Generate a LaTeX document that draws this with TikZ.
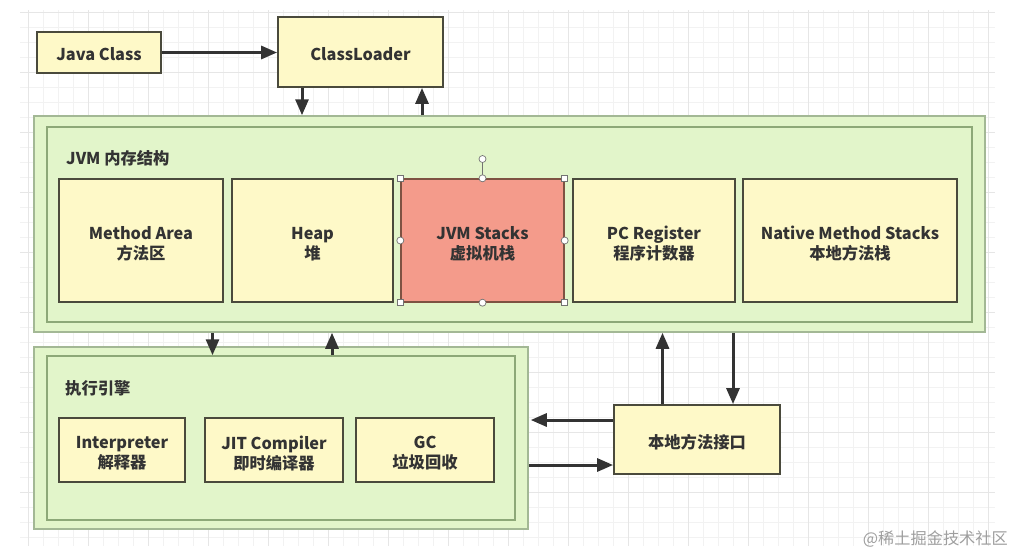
\documentclass[tikz,border=0pt]{standalone}
\usepackage{fontspec}
\setmainfont{Noto Sans CJK SC}
\usetikzlibrary{arrows.meta}
\definecolor{yfill}{HTML}{FEF9C8}
\definecolor{ydraw}{HTML}{4A4A3C}
\definecolor{gfill}{HTML}{E2F5CA}
\definecolor{gdraw}{HTML}{8DA878}
\definecolor{gdrawout}{HTML}{A3B895}
\definecolor{rfill}{HTML}{F49B8B}
\definecolor{rdraw}{HTML}{7E5242}
\definecolor{txt}{HTML}{333333}
\definecolor{gridminor}{HTML}{F2F2F2}
\definecolor{gridmajor}{HTML}{E6E6E6}
\tikzset{
  ybox/.style={draw=ydraw, fill=yfill, line width=1.8pt, inner sep=0pt},
  rbox/.style={ybox, draw=rdraw, fill=rfill, line width=1.4pt},
  btxt/.style={text=txt, align=center, inner sep=0pt, font=\fontsize{16.3}{20}\selectfont\bfseries},
  gouter/.style={draw=gdrawout, fill=gfill, line width=1.5pt, inner sep=0pt},
  ginner/.style={draw=gdraw, fill=gfill, line width=1.5pt, inner sep=0pt},
  glabel/.style={text=txt, font=\fontsize{16.3}{20}\selectfont\bfseries, inner sep=0pt, anchor=west},
  arr/.style={draw=txt, line width=3pt, -{Triangle[length=16pt,width=13pt]}},
  wm/.style={text=black!38, font=\fontsize{16.2}{20}\selectfont, inner sep=0pt},
  hsq/.style={draw=black!55, fill=white, line width=0.7pt, minimum size=6pt, inner sep=0pt},
  hci/.style={draw=black!55, fill=white, line width=0.7pt, circle, minimum size=7pt, inner sep=0pt},
}
\begin{document}
\begin{tikzpicture}[x=1pt,y=-1pt]
\useasboundingbox (0,0) rectangle (1016,555);
\fill[white] (0,0) rectangle (1016,555);
% background grid
\foreach \x in {28,43,...,988} \draw[gridminor, line width=0.8pt] (\x,10) -- (\x,546);
\foreach \y in {12,27,...,537} \draw[gridminor, line width=0.8pt] (20,\y) -- (995,\y);
\foreach \x in {28,88,...,988} \draw[gridmajor, line width=0.8pt] (\x,10) -- (\x,546);
\foreach \y in {12,72,...,537} \draw[gridmajor, line width=0.8pt] (20,\y) -- (995,\y);

% top
\node[ybox, minimum width=124pt, minimum height=41pt] (jc) at (99,52.5) {};
\node[btxt] (jct) at ([yshift=-1.5pt]jc.center) {Java Class};
\node[ybox, minimum width=165pt, minimum height=70pt] (cl) at (360.5,52) {};
\node[btxt] (clt) at ([yshift=-2pt]cl.center) {ClassLoader};

% JVM memory structure
\node[gouter, minimum width=951pt, minimum height=216pt] (jvmo) at (509.5,224) {};
\node[ginner, minimum width=925pt, minimum height=195pt] (jvmi) at (509.5,224.5) {};
\node[glabel] (jvml) at (66,158) {JVM 内存结构};
\node[ybox, minimum width=164pt, minimum height=123pt] (ma) at (141,240.5) {};
\node[ybox, minimum width=161pt, minimum height=123pt] (hp) at (312.5,240.5) {};
\node[rbox, minimum width=163pt, minimum height=123pt] (js) at (482.5,240.5) {};
\node[ybox, minimum width=162pt, minimum height=123pt] (pc) at (654,240.5) {};
\node[ybox, minimum width=214pt, minimum height=123pt] (nm) at (850,240.5) {};
\node[btxt] (mat) at ([yshift=-3.5pt]ma.center) {Method Area\\方法区};
\node[btxt] (hpt) at ([yshift=-3.5pt]hp.center) {Heap\\堆};
\node[btxt] (jst) at ([yshift=-3.5pt]js.center) {JVM Stacks\\虚拟机栈};
\node[btxt] (pct) at ([yshift=-3.5pt]pc.center) {PC Register\\程序计数器};
\node[btxt] (nmt) at ([yshift=-3.5pt]nm.center) {Native Method Stacks\\本地方法栈};

% selection handles on JVM Stacks
\node[hci] (rot) at (482.5,159) {};
\draw[black!55, line width=0.7pt] (rot.south) -- (js.north);
\foreach \a in {north west,north east,south west,south east} \node[hsq] at (js.\a) {};
\foreach \a in {north,south,west,east} \node[hci] at (js.\a) {};

% execution engine
\node[gouter, minimum width=494pt, minimum height=182pt] (exo) at (281,438) {};
\node[ginner, minimum width=468pt, minimum height=164pt] (exi) at (281,438) {};
\node[glabel] (exl) at (65,388) {执行引擎};
\node[ybox, minimum width=126pt, minimum height=64pt] (it) at (122,450) {};
\node[ybox, minimum width=138pt, minimum height=64pt] (jit) at (274,450) {};
\node[ybox, minimum width=138pt, minimum height=64pt] (gc) at (425,450) {};
\node[btxt] (itt) at ([yshift=-3pt]it.center) {Interpreter\\解释器};
\node[btxt] (jitt) at ([yshift=-3pt]jit.center) {JIT Compiler\\即时编译器};
\node[btxt] (gct) at ([yshift=-3pt]gc.center) {GC\\垃圾回收};

% native interface
\node[ybox, minimum width=166pt, minimum height=69pt] (ni) at (697,439.5) {};
\node[btxt] (nit) at ([yshift=-3pt]ni.center) {本地方法接口};

% watermark
\node[wm, anchor=east] (wmk) at (1008,539) {@稀土掘金技术社区};

% helper coordinates for connector columns/rows
\coordinate (c1) at (302,0);
\coordinate (c2) at (422,0);
\coordinate (c3) at (212.5,0);
\coordinate (c4) at (332,0);
\coordinate (c5) at (662.5,0);
\coordinate (c6) at (733,0);
\coordinate (r1) at (0,420);
\coordinate (r2) at (0,465);

% connectors
\draw[arr] (jc.east) -- (jc.east -| cl.west);
\draw[arr] (cl.south -| c1) -- (jvmo.north -| c1);
\draw[arr] (jvmo.north -| c2) -- (cl.south -| c2);
\draw[arr] (jvmo.south -| c3) -- (exi.north -| c3);
\draw[arr] (exi.north -| c4) -- (jvmo.south -| c4);
\draw[arr] (ni.north -| c5) -- (jvmo.south -| c5);
\draw[arr] (jvmo.south -| c6) -- (ni.north -| c6);
\draw[arr] (ni.west |- r1) -- ([xshift=2pt]exo.east |- r1);
\draw[arr] (exo.east |- r2) -- (ni.west |- r2);
\end{tikzpicture}
\end{document}
